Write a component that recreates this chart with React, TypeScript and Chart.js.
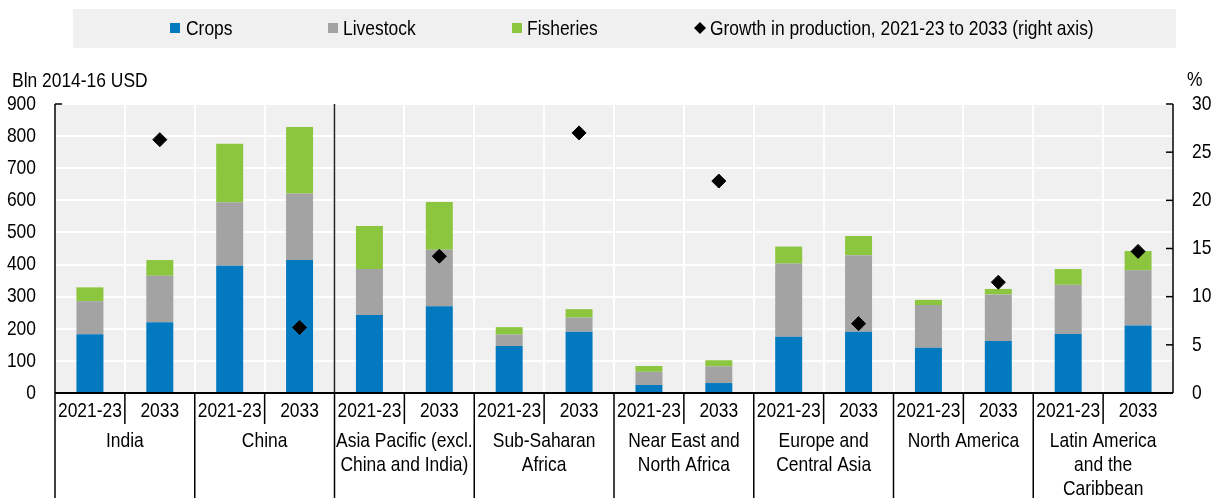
import React, { useEffect, useRef } from 'react';
import { Chart, registerables } from 'chart.js';

Chart.register(...registerables);

// ---------- data ----------
const periods = ['2021-23', '2033', '2021-23', '2033', '2021-23', '2033', '2021-23', '2033', '2021-23', '2033', '2021-23', '2033', '2021-23', '2033', '2021-23', '2033'];
const regions: string[][] = [
  ['India'],
  ['China'],
  ['Asia Pacific (excl.', 'China and India)'],
  ['Sub-Saharan', 'Africa'],
  ['Near East and', 'North Africa'],
  ['Europe and', 'Central Asia'],
  ['North America'],
  ['Latin America', 'and the', 'Caribbean'],
];
const crops = [183, 220, 396, 414, 243, 270, 146, 191, 25, 31, 175, 191, 141, 162, 184, 210];
const livestock = [103, 145, 198, 207, 143, 176, 36, 44, 41, 52, 228, 238, 133, 145, 153, 172];
const fisheries = [43, 49, 182, 207, 134, 149, 23, 26, 18, 19, 53, 60, 16, 17, 49, 60];
const growth = [null, 26.3, null, 6.8, null, 14.2, null, 27.0, null, 22.0, null, 7.2, null, 11.5, null, 14.7];
const leftTicks = [0, 100, 200, 300, 400, 500, 600, 700, 800, 900];
const rightTicks = [0, 5, 10, 15, 20, 25, 30];
const legendLabels = ['Crops', 'Livestock', 'Fisheries', 'Growth in production, 2021-23 to 2033 (right axis)'];
const leftTitle = 'Bln 2014-16 USD';
const rightTitle = '%';

// ---------- style ----------
const FONT = "'Liberation Sans', Arial, sans-serif";
const SX = 0.83; // horizontal condensing (narrow typeface look)
const FS = 21;
const C_CROPS = '#0379bf';
const C_LIVE = '#a3a3a3';
const C_FISH = '#8cc63f';
const BG = '#f0f0f0';

const customPlugin = {
  id: 'custom',
  beforeDraw(chart: any) {
    const { ctx, chartArea } = chart;
    ctx.save();
    ctx.fillStyle = BG;
    ctx.fillRect(chartArea.left, chartArea.top, chartArea.right - chartArea.left, chartArea.bottom - chartArea.top);
    ctx.restore();
  },
  afterDraw(chart: any) {
    const { ctx, chartArea } = chart;
    const { left, right, top, bottom } = chartArea;
    const xs = chart.scales.x;
    const ys = chart.scales.y;
    const y1 = chart.scales.y1;
    const H = chart.height;
    const step = xs.getPixelForValue(1) - xs.getPixelForValue(0);
    const line = (x1: number, y1p: number, x2: number, y2: number) => {
      ctx.beginPath();
      ctx.moveTo(x1, y1p);
      ctx.lineTo(x2, y2);
      ctx.stroke();
    };
    const txt = (t: string, x: number, y: number, align: string, size: number) => {
      ctx.save();
      ctx.font = `${size}px ${FONT}`;
      ctx.fillStyle = '#000';
      ctx.textAlign = align;
      ctx.textBaseline = 'middle';
      ctx.translate(x, y);
      ctx.scale(SX, 1);
      ctx.fillText(t, 0, 0);
      ctx.restore();
    };
    ctx.save();
    ctx.strokeStyle = '#000';
    ctx.lineWidth = 1.5;
    line(left, top, left, bottom);
    line(right, top, right, bottom);
    // separator between China and the rest
    const sepX = xs.getPixelForValue(3) + step / 2;
    ctx.strokeStyle = '#222';
    line(sepX, top, sepX, bottom);
    ctx.strokeStyle = '#000';
    // right axis inner ticks
    rightTicks.forEach((v) => {
      const yy = y1.getPixelForValue(v);
      line(right - 7, yy, right, yy);
    });
    line(left, top, left + 7, top);
    // bottom axis
    ctx.lineWidth = 2;
    line(left, bottom, right, bottom);
    // y tick labels
    leftTicks.forEach((v) => txt(String(v), left - 19, ys.getPixelForValue(v), 'right', FS));
    rightTicks.forEach((v) => txt(String(v), right + 19, y1.getPixelForValue(v), 'left', FS));
    // category labels
    ctx.lineWidth = 1.5;
    for (let i = 0; i < periods.length; i++) {
      const cx = xs.getPixelForValue(i);
      txt(periods[i], cx, bottom + 18, 'center', FS);
      const bx = cx - step / 2;
      if (i % 2 === 0) line(bx, bottom, bx, H);
      else line(bx, bottom, bx, bottom + 31);
    }
    regions.forEach((lines, g) => {
      const cx = (xs.getPixelForValue(2 * g) + xs.getPixelForValue(2 * g + 1)) / 2;
      lines.forEach((t, k) => txt(t, cx, bottom + 48 + k * 24, 'center', FS));
    });
    // axis titles
    txt(leftTitle, 12, 81, 'left', FS);
    txt(rightTitle, 1187, 80, 'left', FS);
    // legend
    ctx.fillStyle = BG;
    ctx.fillRect(73, 9, 1103, 39);
    const sq = [
      { c: C_CROPS, x: 170, tx: 186 },
      { c: C_LIVE, x: 328, tx: 343 },
      { c: C_FISH, x: 512, tx: 527 },
    ];
    sq.forEach((s, i) => {
      ctx.fillStyle = s.c;
      ctx.fillRect(s.x, 23, 10, 10);
      txt(legendLabels[i], s.tx, 29, 'left', 21);
    });
    ctx.fillStyle = '#000';
    ctx.beginPath();
    ctx.moveTo(700, 22);
    ctx.lineTo(706, 28);
    ctx.lineTo(700, 34);
    ctx.lineTo(694, 28);
    ctx.closePath();
    ctx.fill();
    txt(legendLabels[3], 710, 29, 'left', 21);
    ctx.restore();
  },
};

export default function App() {
  const ref = useRef<HTMLCanvasElement | null>(null);
  useEffect(() => {
    if (!ref.current) return;
    const chart = new Chart(ref.current, {
      type: 'bar',
      data: {
        labels: periods,
        datasets: [
          {
            type: 'line',
            label: legendLabels[3],
            data: growth as any,
            yAxisID: 'y1',
            showLine: false,
            pointStyle: 'rectRot',
            pointRadius: 7,
            pointBorderWidth: 1,
            pointBackgroundColor: '#000',
            pointBorderColor: '#000',
            order: 0,
          } as any,
          { label: legendLabels[0], data: crops, backgroundColor: C_CROPS, yAxisID: 'y', order: 1, barPercentage: 0.386, categoryPercentage: 1 },
          { label: legendLabels[1], data: livestock, backgroundColor: C_LIVE, yAxisID: 'y', order: 1, barPercentage: 0.386, categoryPercentage: 1 },
          { label: legendLabels[2], data: fisheries, backgroundColor: C_FISH, yAxisID: 'y', order: 1, barPercentage: 0.386, categoryPercentage: 1 },
        ],
      },
      options: {
        animation: false,
        responsive: true,
        maintainAspectRatio: false,
        layout: { padding: { top: 104, left: 0, right: 0, bottom: 0 } },
        plugins: { legend: { display: false }, tooltip: { enabled: false } },
        scales: {
          x: {
            stacked: true,
            offset: true,
            grid: { color: '#ffffff', lineWidth: 2, drawTicks: false, offset: true },
            border: { display: false },
            ticks: { display: false },
            afterFit: (s: any) => { s.height = 105; },
          },
          y: {
            stacked: true,
            position: 'left',
            min: leftTicks[0],
            max: leftTicks[leftTicks.length - 1],
            grid: { color: '#ffffff', lineWidth: 2, drawTicks: false },
            border: { display: false },
            ticks: { display: false, stepSize: leftTicks[1] - leftTicks[0] },
            afterFit: (s: any) => { s.width = 55; },
          },
          y1: {
            position: 'right',
            min: rightTicks[0],
            max: rightTicks[rightTicks.length - 1],
            grid: { display: false, drawTicks: false },
            border: { display: false },
            ticks: { display: false, stepSize: rightTicks[1] - rightTicks[0] },
            afterFit: (s: any) => { s.width = 41; },
          },
        },
      } as any,
      plugins: [customPlugin],
    });
    return () => chart.destroy();
  }, []);
  return (
    <div style={{ position: 'absolute', left: 0, top: 0, width: 1214, height: 498 }}>
      <canvas ref={ref} />
    </div>
  );
}
